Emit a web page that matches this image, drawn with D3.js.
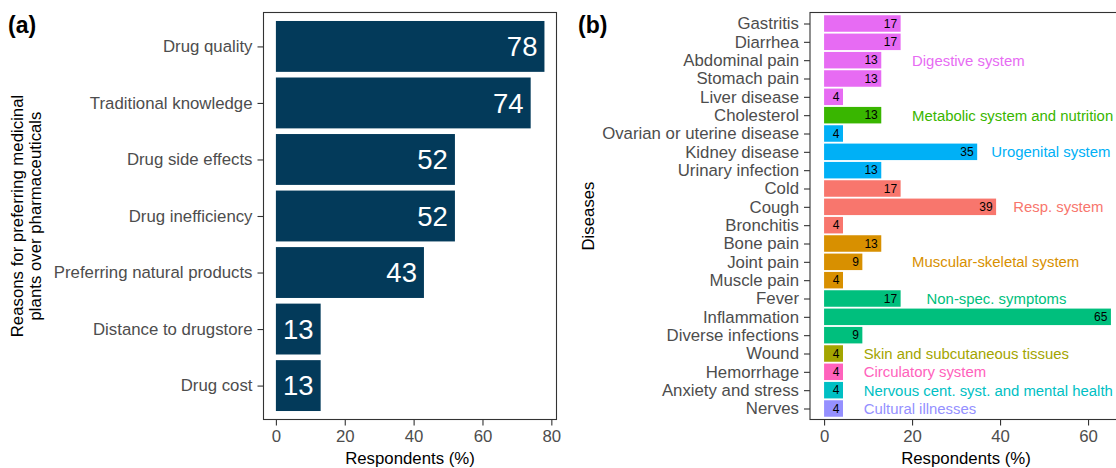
<!DOCTYPE html>
<html>
<head>
<meta charset="utf-8">
<script src="https://cdn.jsdelivr.net/npm/d3@7"></script>
<style>
  body { margin: 0; background: #fff; }
  svg { display: block; font-family: "Liberation Sans", Arial, sans-serif; }
</style>
</head>
<body>
<div id="chart"></div>
<script>
// Panel (a): reasons for preferring medicinal plants
const reasons = ['Drug quality', 'Traditional knowledge', 'Drug side effects', 'Drug inefficiency',
  'Preferring natural products', 'Distance to drugstore', 'Drug cost'];
const reasonValues = [78, 74, 52, 52, 43, 13, 13];
const reasonTicks = [0, 20, 40, 60, 80];

// Panel (b): diseases treated
const diseases = ['Gastritis', 'Diarrhea', 'Abdominal pain', 'Stomach pain', 'Liver disease',
  'Cholesterol', 'Ovarian or uterine disease', 'Kidney disease', 'Urinary infection',
  'Cold', 'Cough', 'Bronchitis', 'Bone pain', 'Joint pain', 'Muscle pain',
  'Fever', 'Inflammation', 'Diverse infections', 'Wound', 'Hemorrhage',
  'Anxiety and stress', 'Nerves'];
const diseaseValues = [17.4, 17.4, 13, 13, 4.3, 13, 4.3, 34.8, 13, 17.4, 39.1, 4.3,
  13, 8.7, 4.3, 17.4, 65.2, 8.7, 4.3, 4.3, 4.3, 4.3];
const diseaseGroups = [
  'Digestive system', 'Digestive system', 'Digestive system', 'Digestive system', 'Digestive system',
  'Metabolic system and nutrition',
  'Urogenital system', 'Urogenital system', 'Urogenital system',
  'Resp. system', 'Resp. system', 'Resp. system',
  'Muscular-skeletal system', 'Muscular-skeletal system', 'Muscular-skeletal system',
  'Non-spec. symptoms', 'Non-spec. symptoms', 'Non-spec. symptoms',
  'Skin and subcutaneous tissues', 'Circulatory system',
  'Nervous cent. syst. and mental health', 'Cultural illnesses'];
const diseaseTicks = [0, 20, 40, 60];

// group labels placed next to the bars
const groupNames = ['Digestive system', 'Metabolic system and nutrition', 'Urogenital system',
  'Resp. system', 'Muscular-skeletal system', 'Non-spec. symptoms',
  'Skin and subcutaneous tissues', 'Circulatory system',
  'Nervous cent. syst. and mental health', 'Cultural illnesses'];
const groupColors = ['#E76BF3', '#39B600', '#00B0F6', '#F8766D', '#D89000', '#00BF7D',
  '#A3A500', '#FF62BC', '#00BFC4', '#9590FF'];
const groupLabelRows = ['Abdominal pain', 'Cholesterol', 'Kidney disease', 'Cough', 'Joint pain',
  'Fever', 'Wound', 'Hemorrhage', 'Anxiety and stress', 'Nerves'];
const groupLabelX = [20, 20, 38, 43, 20, 23.3, 9, 9, 9, 9];

const width = 1116, height = 468;
const panelTop = 12.5, panelBottom = 419.5;
const textGray = '#4d4d4d';
const fontSize = 16.8;

const svg = d3.select('#chart').append('svg')
  .attr('width', width)
  .attr('height', height);

const color = d3.scaleOrdinal().domain(groupNames).range(groupColors);

function styleAxis(g) {
  g.select('.domain').remove();
  g.selectAll('.tick line').attr('stroke', '#333333').attr('stroke-width', 1.1);
  g.selectAll('.tick text')
    .attr('fill', textGray)
    .style('font-size', fontSize + 'px')
    .style('font-family', '"Liberation Sans", Arial, sans-serif');
}

function panelFrame(x0, x1) {
  svg.append('rect')
    .attr('x', x0)
    .attr('y', panelTop)
    .attr('width', x1 - x0)
    .attr('height', panelBottom - panelTop)
    .attr('fill', 'none')
    .attr('stroke', '#333333')
    .attr('stroke-width', 1.1);
}

// ---------- Panel (a) ----------
const aLeft = 263.5, aRight = 556.5;
const xA = d3.scaleLinear().domain([-3.6, 81.5]).range([aLeft, aRight]);
const yA = d3.scalePoint().domain(reasons).range([panelTop, panelBottom]).padding(0.6);
const barA = yA.step() * 0.9;

const gA = svg.append('g');
gA.selectAll('rect.bar')
  .data(reasons)
  .join('rect')
  .attr('class', 'bar')
  .attr('x', xA(0))
  .attr('y', d => yA(d) - barA / 2)
  .attr('width', (d, i) => xA(reasonValues[i]) - xA(0))
  .attr('height', barA)
  .attr('fill', '#033a5a');

gA.selectAll('text.value')
  .data(reasons)
  .join('text')
  .attr('class', 'value')
  .attr('x', (d, i) => xA(reasonValues[i]) - 7)
  .attr('y', d => yA(d))
  .attr('dy', '0.36em')
  .attr('text-anchor', 'end')
  .attr('fill', '#ffffff')
  .style('font-size', '27.5px')
  .text((d, i) => reasonValues[i]);

panelFrame(aLeft, aRight);

svg.append('g')
  .attr('transform', `translate(0,${panelBottom})`)
  .call(d3.axisBottom(xA).tickValues(reasonTicks).tickSize(6).tickPadding(5))
  .call(styleAxis);

svg.append('g')
  .attr('transform', `translate(${aLeft},0)`)
  .call(d3.axisLeft(yA).tickSize(6).tickPadding(5))
  .call(styleAxis);

svg.append('text')
  .attr('x', (aLeft + aRight) / 2)
  .attr('y', 464)
  .attr('text-anchor', 'middle')
  .style('font-size', fontSize + 'px')
  .attr('fill', '#000')
  .text('Respondents (%)');

const yTitleA = svg.append('text')
  .attr('transform', `translate(23,${(panelTop + panelBottom) / 2}) rotate(-90)`)
  .attr('text-anchor', 'middle')
  .style('font-size', fontSize + 'px')
  .attr('fill', '#000');
yTitleA.append('tspan').attr('x', 0).attr('dy', 0).text('Reasons for preferring medicinal');
yTitleA.append('tspan').attr('x', 0).attr('dy', '1.1em').text('plants over pharmaceuticals');

svg.append('text')
  .attr('x', 8)
  .attr('y', 33)
  .style('font-size', '23px')
  .style('font-weight', 'bold')
  .attr('fill', '#000')
  .text('(a)');

// ---------- Panel (b) ----------
const bLeft = 810, bRight = 1125;
const xB = d3.scaleLinear().domain([-3.2, 68.4]).range([bLeft, bRight]);
const yB = d3.scalePoint().domain(diseases).range([panelTop, panelBottom]).padding(0.6);
const barB = yB.step() * 0.9;

const gB = svg.append('g');
gB.selectAll('rect.bar')
  .data(diseases)
  .join('rect')
  .attr('class', 'bar')
  .attr('x', xB(0))
  .attr('y', d => yB(d) - barB / 2)
  .attr('width', (d, i) => xB(diseaseValues[i]) - xB(0))
  .attr('height', barB)
  .attr('fill', (d, i) => color(diseaseGroups[i]));

gB.selectAll('text.value')
  .data(diseases)
  .join('text')
  .attr('class', 'value')
  .attr('x', (d, i) => xB(diseaseValues[i]) - 3.5)
  .attr('y', d => yB(d))
  .attr('dy', '0.36em')
  .attr('text-anchor', 'end')
  .attr('fill', '#000')
  .style('font-size', '12px')
  .text((d, i) => d3.format('.0f')(diseaseValues[i]));

gB.selectAll('text.group')
  .data(groupNames)
  .join('text')
  .attr('class', 'group')
  .attr('x', (d, i) => xB(groupLabelX[i]))
  .attr('y', (d, i) => yB(groupLabelRows[i]))
  .attr('dy', '0.36em')
  .attr('fill', d => color(d))
  .style('font-size', '14.9px')
  .text(d => d);

panelFrame(bLeft, bRight);

svg.append('g')
  .attr('transform', `translate(0,${panelBottom})`)
  .call(d3.axisBottom(xB).tickValues(diseaseTicks).tickSize(6).tickPadding(5))
  .call(styleAxis);

svg.append('g')
  .attr('transform', `translate(${bLeft},0)`)
  .call(d3.axisLeft(yB).tickSize(6).tickPadding(5))
  .call(styleAxis);

svg.append('text')
  .attr('x', 966)
  .attr('y', 464)
  .attr('text-anchor', 'middle')
  .style('font-size', fontSize + 'px')
  .attr('fill', '#000')
  .text('Respondents (%)');

svg.append('text')
  .attr('transform', `translate(594,${(panelTop + panelBottom) / 2}) rotate(-90)`)
  .attr('text-anchor', 'middle')
  .style('font-size', fontSize + 'px')
  .attr('fill', '#000')
  .text('Diseases');

svg.append('text')
  .attr('x', 578)
  .attr('y', 33)
  .style('font-size', '23px')
  .style('font-weight', 'bold')
  .attr('fill', '#000')
  .text('(b)');
</script>
</body>
</html>
